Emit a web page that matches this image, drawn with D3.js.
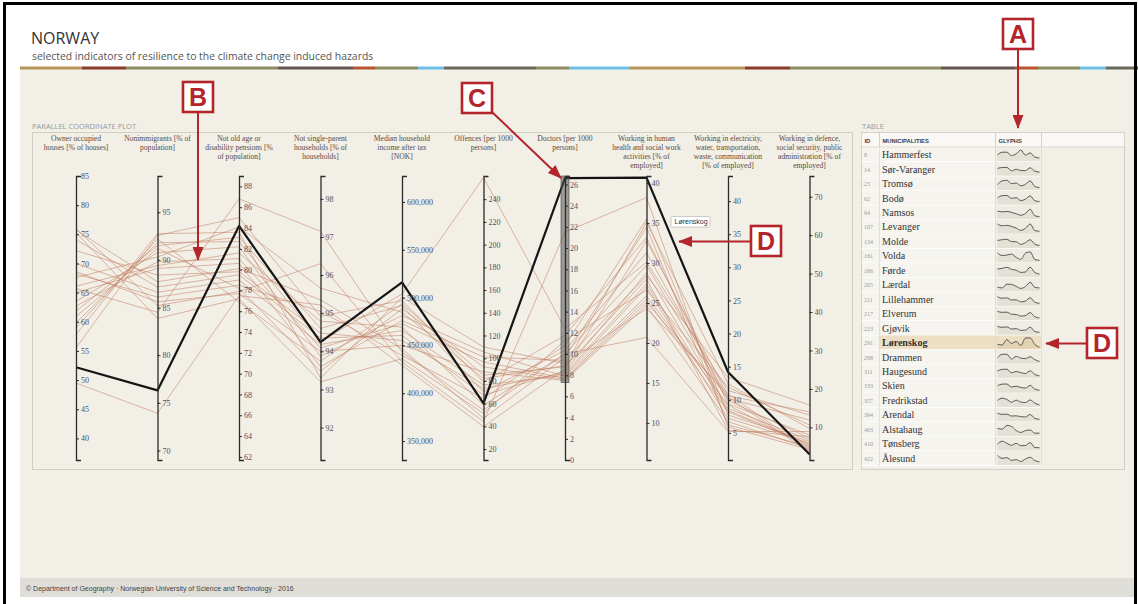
<!DOCTYPE html>
<html>
<head>
<meta charset="utf-8">
<script src="https://cdn.jsdelivr.net/npm/d3@7"></script>
<style>
body { margin: 0; background: #fff; }
svg { display: block; }
</style>
</head>
<body>
<svg id="chart" width="1138" height="604"></svg>
<script>
/* Norway resilience indicators: parallel coordinates + glyph table */

//////// data
var dimKeys = ["owner", "nonimm", "notold", "notsingle", "income", "offences", "doctors", "health", "electricity", "defence"];
var dimTitles = [
	["Owner occupied", "houses [% of houses]"],
	["Nonimmigrants [% of", "population]"],
	["Not old age or", "disability pensions [%", "of population]"],
	["Not single-parent", "households [% of", "households]"],
	["Median household", "income after tax", "[NOK]"],
	["Offences [per 1000", "persons]"],
	["Doctors [per 1000", "persons]"],
	["Working in human", "health and social work", "activities [% of", "employed]"],
	["Working in electricity,", "water, transportation,", "waste, communication", "[% of employed]"],
	["Working in defence,", "social security, public", "administration [% of", "employed]"]
];
var dimDomains = [[36.3, 85], [69, 98.8], [61.7, 89], [91.15, 98.6], [330200, 627100], [10.4, 260.4], [0, 26.8], [5.35, 40.9], [0.9, 43.8], [1.5, 75.4]];
var dimTicks = [
	[40, 45, 50, 55, 60, 65, 70, 75, 80, 85],
	[70, 75, 80, 85, 90, 95],
	[62, 64, 66, 68, 70, 72, 74, 76, 78, 80, 82, 84, 86, 88],
	[92, 93, 94, 95, 96, 97, 98],
	[350000, 400000, 450000, 500000, 550000, 600000],
	[20, 40, 60, 80, 100, 120, 140, 160, 180, 200, 220, 240],
	[0, 2, 4, 6, 8, 10, 12, 14, 16, 18, 20, 22, 24, 26],
	[10, 15, 20, 25, 30, 35, 40],
	[5, 10, 15, 20, 25, 30, 35, 40],
	[10, 20, 30, 40, 50, 60, 70]
];

var municipalityIds = [8, 14, 23, 62, 94, 107, 134, 161, 186, 205, 211, 217, 223, 291, 298, 311, 333, 357, 394, 403, 410, 422];
var municipalityNames = ["Hammerfest", "Sør-Varanger", "Tromsø", "Bodø", "Namsos", "Levanger", "Molde", "Volda", "Førde", "Lærdal",
	"Lillehammer", "Elverum", "Gjøvik", "Lørenskog", "Drammen", "Haugesund", "Skien", "Fredrikstad", "Arendal", "Alstahaug", "Tønsberg", "Ålesund"];
var selectedName = "Lørenskog";

var owner = [59.8, 65.0, 55.5, 61.8, 68.2, 75.7, 66.1, 76.0, 67.6, 49.5, 74.1, 72.2, 70.0, 52.2, 57.8, 63.5, 62.7, 60.9, 68.6, 65.7, 59.0, 75.3];
var nonimm = [91.8, 89.1, 92.56, 91.5, 86.1, 87.7, 89.4, 85.2, 90.3, 73.9, 87.15, 88.4, 86.6, 76.3, 92.74, 90.75, 89.8, 91.2, 85.6, 84.5, 92.2, 83.85];
var notold = [82.7, 80.6, 85.0, 83.1, 78.5, 80.1, 81.6, 77.9, 84.1, 77.5, 79.5, 79.8, 79.0, 84.2, 83.6, 82.2, 81.05, 78.2, 77.7, 86.8, 76.9, 77.2];
var notsingle = [94.26, 93.6, 94.92, 94.6, 95.05, 95.35, 94.79, 96.3, 95.66, 95.22, 94.35, 94.48, 94.18, 94.24, 93.3, 93.87, 94.09, 93.48, 94.0, 97.15, 93.74, 93.2];
var income = [503800, 476000, 496900, 491700, 439600, 446500, 469100, 432600, 484700, 429200, 460400, 455200, 465600, 515900, 500300, 481250, 472600, 488200, 450000, 443000, 493500, 436100];
var offences = [259, 101.1, 79.2, 70.4, 64.6, 47.0, 58.7, 44.2, 82.1, 39.8, 67.5, 73.3, 76.3, 60.2, 109.9, 105.5, 96.7, 92.4, 88.0, 54.3, 85.0, 51.4];
var doctors = [12.4, 9.4, 11.75, 10.35, 10.8, 9.7, 10.0, 21.5, 8.9, 8.6, 8.4, 8.2, 8.0, 26.6, 9.1, 7.9, 7.7, 7.6, 7.5, 10.0, 8.8, 11.3];
var health = [30.1, 28.4, 33.2, 31.3, 35.5, 34.5, 29.7, 38.2, 35.1, 32.8, 28.8, 27.4, 27.0, 40.7, 24.3, 25.9, 25.5, 25.1, 24.7, 20.7, 28.0, 26.6];
var electricity = [11.4, 13.4, 9.4, 10.2, 7.7, 6.2, 9.9, 5.9, 12.4, 10.6, 8.7, 8.4, 7.2, 14.2, 10.9, 9.2, 8.2, 10.4, 6.7, 5.2, 5.4, 11.9];
var defence = [13.2, 15.8, 8.0, 11.9, 6.3, 5.0, 7.2, 4.2, 9.7, 14.0, 6.7, 5.6, 5.9, 3.0, 3.9, 4.8, 5.3, 3.5, 4.5, 8.9, 7.6, 10.6];
var series = [owner, nonimm, notold, notsingle, income, offences, doctors, health, electricity, defence];

// brush on the doctors axis
var doctorsBrush = [7.3, 26.8];

// header colour strip
var stripColors = ["#b5955a", "#8a3b2c", "#8d8b62", "#665650", "#b8552e", "#8d8b62", "#6dbfe8", "#6a6a5c", "#8d8b62",
	"#6dbfe8", "#b5955a", "#8a3b2c", "#8d8b62", "#665650", "#b8552e", "#8d8b62", "#6dbfe8", "#6a6a5c"];
var stripStops = [20, 82, 126, 278, 353, 375, 418, 444, 536, 569, 630, 745, 790, 941, 1015, 1038, 1080, 1106, 1138];

var rows = municipalityNames.map(function(n, i) {
	var r = { id: municipalityIds[i], name: n };
	dimKeys.forEach(function(k, j) { r[k] = series[j][i]; });
	return r;
});

var svg = d3.select("#chart");
var RED = "#b3252a";
var SERIF = "'Liberation Serif', 'DejaVu Serif', serif";
var SANS = "'Open Sans', 'Liberation Sans', sans-serif";

//////// page frame
svg.append("rect").attr("x", 20).attr("y", 69).attr("width", 1116).attr("height", 510).attr("fill", "#f2efe7");
svg.append("rect").attr("x", 20).attr("y", 578).attr("width", 1116).attr("height", 19).attr("fill", "#dfddd7");
svg.append("text").attr("x", 26).attr("y", 591).text("© Department of Geography · Norwegian University of Science and Technology · 2016")
	.style("font-family", "'Liberation Sans', Arial, sans-serif").style("font-size", "7px").attr("fill", "#444");

svg.selectAll("rect.strip")
	.data(stripColors)
	.enter().append("rect")
	.attr("class", "strip")
	.attr("x", function(d, i) { return stripStops[i]; })
	.attr("width", function(d, i) { return stripStops[i + 1] - stripStops[i]; })
	.attr("y", 66.5).attr("height", 3)
	.attr("fill", function(d) { return d; });

svg.append("text").attr("x", 31).attr("y", 43.5).text("NORWAY")
	.style("font-family", SANS).style("font-size", "16px").attr("fill", "#333");
svg.append("text").attr("x", 32).attr("y", 59.5).text("selected indicators of resilience to the climate change induced hazards")
	.style("font-family", SANS).style("font-size", "10.4px").attr("fill", "#555");

svg.append("rect").attr("x", 4.5).attr("y", 3.5).attr("width", 1131).attr("height", 620)
	.attr("fill", "none").attr("stroke", "#000").attr("stroke-width", 3);

//////// parallel coordinate plot
svg.append("text").attr("x", 32).attr("y", 129).text("PARALLEL COORDINATE PLOT")
	.style("font-family", SANS).style("font-size", "7.5px").attr("fill", "#999");
svg.append("rect").attr("x", 32.5).attr("y", 132.5).attr("width", 820).attr("height", 337)
	.attr("fill", "none").attr("stroke", "#d2cec4");

var x = d3.scalePoint().domain(dimKeys).range([76, 809.5]);
var yScales = dimDomains.map(function(dom) {
	return d3.scaleLinear().domain(dom).range([460, 176]);
});

var line = d3.line();
function linePath(d) {
	return line(dimKeys.map(function(k, j) { return [x(k), yScales[j](d[k])]; }));
}

var plot = svg.append("g");

plot.selectAll("path.bg")
	.data(rows.filter(function(d) { return d.name != selectedName; }))
	.enter().append("path")
	.attr("class", "bg")
	.attr("d", linePath)
	.attr("fill", "none")
	.attr("stroke", "#c07a5c")
	.attr("stroke-opacity", 0.65)
	.attr("stroke-width", 0.8);

plot.selectAll("path.sel")
	.data(rows.filter(function(d) { return d.name == selectedName; }))
	.enter().append("path")
	.attr("class", "sel")
	.attr("d", linePath)
	.attr("fill", "none")
	.attr("stroke", "#151515")
	.attr("stroke-width", 2.2)
	.attr("stroke-linejoin", "round");

// axes
dimKeys.forEach(function(k, j) {
	var g = plot.append("g")
		.attr("transform", "translate(" + x(k) + ",0)");
	if (k == "doctors") {
		g.append("rect")
			.attr("x", -4).attr("width", 8)
			.attr("y", yScales[j](doctorsBrush[1]))
			.attr("height", yScales[j](doctorsBrush[0]) - yScales[j](doctorsBrush[1]))
			.attr("fill", "#555").attr("fill-opacity", 0.55)
			.attr("stroke", "#444").attr("stroke-width", 0.6);
	}
	g.call(d3.axisRight(yScales[j])
		.tickValues(dimTicks[j])
		.tickSize(3)
		.tickSizeOuter(5)
		.tickPadding(2)
		.tickFormat(k == "income" ? d3.format(",") : d3.format("d")));
	g.attr("font-family", SERIF).attr("font-size", 8);
	g.select(".domain").attr("stroke", "#2a2a2a").attr("stroke-width", 1.3);
	g.selectAll(".tick line").attr("stroke", "#2a2a2a");
	g.selectAll(".tick text").attr("fill", "#4a5163");

	// header
	var hdr = plot.append("text")
		.attr("text-anchor", "middle")
		.style("font-family", SERIF).style("font-size", "7.6px")
		.attr("fill", "#5b4c3e");
	hdr.selectAll("tspan")
		.data(dimTitles[j])
		.enter().append("tspan")
		.attr("x", x(k))
		.attr("y", function(d, i) { return 141 + i * 9; })
		.text(function(d) { return d; });
});

// tooltip label
var tip = plot.append("g").attr("transform", "translate(671,216.5)");
tip.append("rect").attr("width", 39).attr("height", 10.5).attr("rx", 1.5)
	.attr("fill", "#fff").attr("stroke", "#b8b8b8").attr("stroke-width", 0.7);
tip.append("text").attr("x", 3.5).attr("y", 7.8).text(selectedName)
	.style("font-family", "'Liberation Sans', Arial, sans-serif").style("font-size", "7px").attr("fill", "#334");

//////// table
svg.append("text").attr("x", 862).attr("y", 129).text("TABLE")
	.style("font-family", SANS).style("font-size", "7.5px").attr("fill", "#999");
var tbl = svg.append("g");
tbl.append("rect").attr("x", 861.5).attr("y", 132.5).attr("width", 263).attr("height", 337)
	.attr("fill", "none").attr("stroke", "#d2cec4");

var colX = [861.5, 879.5, 995.5, 1041.5, 1124.5];
var colHeads = ["ID", "MUNICIPALITIES", "GLYPHS", ""];
tbl.selectAll("rect.head")
	.data(colHeads)
	.enter().append("rect")
	.attr("class", "head")
	.attr("x", function(d, i) { return colX[i]; })
	.attr("width", function(d, i) { return colX[i + 1] - colX[i]; })
	.attr("y", 132.5).attr("height", 14.5)
	.attr("fill", "#f9f8f4").attr("stroke", "#d2cec4").attr("stroke-width", 0.8);
tbl.selectAll("text.head")
	.data(colHeads)
	.enter().append("text")
	.attr("class", "head")
	.attr("x", function(d, i) { return colX[i] + 3; })
	.attr("y", 142.5)
	.text(function(d) { return d; })
	.style("font-family", "'Liberation Sans', Arial, sans-serif").style("font-size", "5.8px").style("font-weight", "bold")
	.attr("fill", "#3b3850");

var rowY = d3.scaleBand().domain(municipalityNames).range([147.5, 465.5]);
var rh = rowY.bandwidth();
var gx = d3.scalePoint().domain(dimKeys).range([997.5, 1039.5]);
function glyphY(j, v) {
	var t = (460 - yScales[j](v)) / 284;
	return rh - 2.5 - t * (rh - 5);
}
var glyphLine = d3.line()
	.x(function(p) { return p[0]; })
	.y(function(p) { return p[1]; })
	.curve(d3.curveMonotoneX);
var glyphArea = d3.area()
	.x(function(p) { return p[0]; })
	.y0(rh)
	.y1(function(p) { return p[1]; })
	.curve(d3.curveMonotoneX);

var row = tbl.selectAll("g.row")
	.data(rows)
	.enter().append("g")
	.attr("class", "row")
	.attr("transform", function(d) { return "translate(0," + rowY(d.name) + ")"; });

row.append("rect")
	.attr("x", colX[0] + 0.5).attr("width", colX[1] - colX[0] - 0.5)
	.attr("height", rh).attr("fill", "#f6f4ee");
row.append("rect")
	.attr("x", colX[1]).attr("width", colX[2] - colX[1])
	.attr("height", rh)
	.attr("fill", function(d) { return d.name == selectedName ? "#ecdfc4" : "#f6f4ee"; });
row.append("rect")
	.attr("x", colX[2]).attr("width", colX[3] - colX[2])
	.attr("height", rh)
	.attr("fill", function(d) { return d.name == selectedName ? "#ecdfc4" : "#efece4"; });
row.append("path")
	.attr("d", function(d) {
		return glyphArea(dimKeys.map(function(k, j) { return [gx(k), glyphY(j, d[k])]; }));
	})
	.attr("fill", function(d) { return d.name == selectedName ? "#e2d3b3" : "#e4e0d6"; });
row.append("path")
	.attr("d", function(d) {
		return glyphLine(dimKeys.map(function(k, j) { return [gx(k), glyphY(j, d[k])]; }));
	})
	.attr("fill", "none").attr("stroke", "#4a4a4a").attr("stroke-width", 0.9);
row.append("line")
	.attr("x1", colX[0]).attr("x2", colX[3])
	.attr("y1", rh).attr("y2", rh)
	.attr("stroke", "#fff").attr("stroke-width", 1.2);
row.append("line")
	.attr("x1", colX[1]).attr("x2", colX[1]).attr("y1", 0).attr("y2", rh)
	.attr("stroke", "#dcd9d0").attr("stroke-width", 0.8);
row.append("line")
	.attr("x1", colX[2]).attr("x2", colX[2]).attr("y1", 0).attr("y2", rh)
	.attr("stroke", "#dcd9d0").attr("stroke-width", 0.8);
row.append("line")
	.attr("x1", colX[3]).attr("x2", colX[3]).attr("y1", 0).attr("y2", rh)
	.attr("stroke", "#dcd9d0").attr("stroke-width", 0.8);

row.append("text")
	.attr("x", 864).attr("y", rh / 2 + 2.5)
	.text(function(d) { return d.id; })
	.style("font-family", SERIF).style("font-size", "6px").attr("fill", "#9a9a9a");
row.append("text")
	.attr("x", 882).attr("y", rh / 2 + 3.5)
	.text(function(d) { return d.name; })
	.style("font-family", SERIF).style("font-size", "10px")
	.style("font-weight", function(d) { return d.name == selectedName ? "bold" : "normal"; })
	.attr("fill", "#333");

//////// annotations
var defs = svg.append("defs");
defs.append("marker")
	.attr("id", "arrow")
	.attr("markerUnits", "userSpaceOnUse")
	.attr("viewBox", "0 0 14 11")
	.attr("markerWidth", 14).attr("markerHeight", 11)
	.attr("refX", 13).attr("refY", 5.5)
	.attr("orient", "auto")
	.append("path").attr("d", "M0,0 L14,5.5 L0,11 Z").attr("fill", RED);

function drawCallout(letter, bx, by, x1, y1, x2, y2) {
	svg.append("line")
		.attr("x1", x1).attr("y1", y1).attr("x2", x2).attr("y2", y2)
		.attr("stroke", RED).attr("stroke-width", 2)
		.attr("marker-end", "url(#arrow)");
	svg.append("rect")
		.attr("x", bx).attr("y", by).attr("width", 30).attr("height", 30)
		.attr("fill", "#fff").attr("stroke", RED).attr("stroke-width", 2.6);
	svg.append("text")
		.attr("x", bx + 15).attr("y", by + 24)
		.attr("text-anchor", "middle")
		.text(letter)
		.style("font-family", "'Liberation Sans', Arial, sans-serif").style("font-size", "25px").style("font-weight", "bold")
		.attr("fill", RED);
}

drawCallout("A", 1003, 19, 1018, 49, 1018, 128);
drawCallout("B", 183, 82, 198, 112, 198, 260);
drawCallout("C", 462, 83, 492, 112, 561, 178);
drawCallout("D", 751, 226, 751, 241.5, 679, 241.5);
drawCallout("D", 1087, 328, 1087, 343.5, 1046, 343.5);
</script>
</body>
</html>
